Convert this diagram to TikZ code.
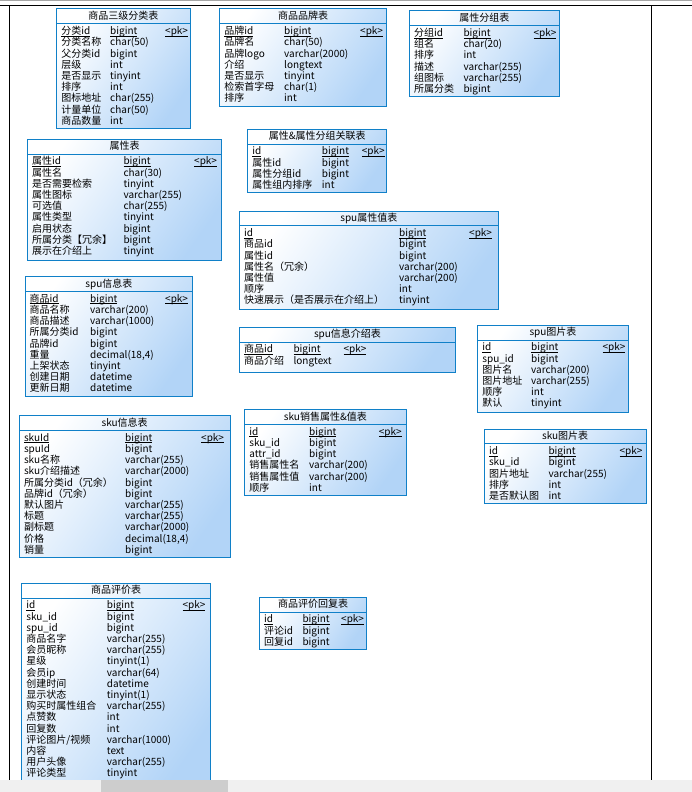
\documentclass[tikz,border=0pt]{standalone}
\usepackage{fontspec}
\setmainfont{Noto Sans CJK SC}
\usetikzlibrary{fit}

\definecolor{tblblue}{RGB}{16,128,200}
\definecolor{tblfill}{RGB}{178,212,247}
\definecolor{scrollbg}{RGB}{240,240,240}
\definecolor{scrollthumb}{RGB}{205,205,205}

% key underline, kept close to the baseline
\newcommand{\keyul}[1]{{\setbox0\hbox{#1}\rlap{\rule[-1.5pt]{\wd0}{0.5pt}}\box0}}

% name, left, top, right, bottom, title, type x, pk x, fields (first one is the key)
\newcommand{\dbtable}[9]{%
  \node[tbl,fit={(#2,#3) (#4,#5)}] (#1) {};
  \node[ttl] (#1-title) at ({(#2+#4)/2},#3+10.6) {#6};
  \draw[sepline] (#2,#3+14.7) -- (#4,#3+14.7);
  \foreach \fname/\ftype [count=\i] in {#9} {
    \pgfmathsetmacro{\rowy}{#3+25.6+11.2*(\i-1)}
    \ifnum\i=1
      \node[fld] (#1-n\i) at (#2+4.5,\rowy) {\keyul{\fname}};
      \node[fld] (#1-t\i) at (#7,\rowy) {\keyul{\ftype}};
      \node[fld] (#1-pk) at (#8,\rowy) {\keyul{<pk>}};
    \else
      \node[fld] (#1-n\i) at (#2+4.5,\rowy) {\fname};
      \node[fld] (#1-t\i) at (#7,\rowy) {\ftype};
    \fi
  }%
}

\begin{document}
\begin{tikzpicture}[
  x=1pt,y=-1pt,
  tbl/.style={draw=tblblue,line width=1pt,inner sep=0pt,top color=white,bottom color=tblfill,shading angle=55},
  sepline/.style={draw=tblblue,line width=0.9pt},
  ttl/.style={anchor=base,inner sep=0pt,font=\fontsize{10}{11}\selectfont},
  fld/.style={anchor=base west,inner sep=0pt,font=\fontsize{10}{11}\selectfont},
  frame/.style={line width=1pt}
]
\fill[white] (0,0) rectangle (692,792);
\useasboundingbox (0,0) rectangle (692,792);
\fill[gray!70] (0,0) rectangle (692,1.5);
\draw[frame] (0,6) -- (692,6);
\draw[frame] (9.5,6) -- (9.5,792);
\draw[frame] (651.5,6) -- (651.5,792);

\dbtable{cat}{56.7}{9}{190}{128}{商品三级分类表}{110}{165}{分类id/bigint, 分类名称/char(50), 父分类id/bigint, 层级/int, 是否显示/tinyint, 排序/int, 图标地址/char(255), 计量单位/char(50), 商品数量/int}
\dbtable{brand}{219.7}{9}{386.3}{106}{商品品牌表}{284}{360}{品牌id/bigint, 品牌名/char(50), 品牌logo/varchar(2000), 介绍/longtext, 是否显示/tinyint, 检索首字母/char(1), 排序/int}
\dbtable{attrgroup}{409.3}{11}{559.3}{96.3}{属性分组表}{463.3}{533.3}{分组id/bigint, 组名/char(20), 排序/int, 描述/varchar(255), 组图标/varchar(255), 所属分类/bigint}
\dbtable{attr}{27.3}{139.3}{221.7}{260}{属性表}{123.3}{194}{属性id/bigint, 属性名/char(30), 是否需要检索/tinyint, 属性图标/varchar(255), 可选值/char(255), 属性类型/tinyint, 启用状态/bigint, 所属分类【冗余】/bigint, 展示在介绍上/tinyint}
\dbtable{attrrel}{247.7}{129.3}{386.7}{192.7}{属性\&属性分组关联表}{321.7}{361.7}{id/bigint, 属性id/bigint, 属性分组id/bigint, 属性组内排序/int}
\dbtable{spuattr}{239.3}{211}{498.3}{309.3}{spu属性值表}{399}{469}{id/bigint, 商品id/bigint, 属性id/bigint, 属性名（冗余）/varchar(200), 属性值/varchar(200), 顺序/int, 快速展示（是否展示在介绍上）/tinyint}
\dbtable{spuinfo}{25}{276.7}{192.7}{396}{spu信息表}{90}{165}{商品id/bigint, 商品名称/varchar(200), 商品描述/varchar(1000), 所属分类id/bigint, 品牌id/bigint, 重量/{decimal(18,4)}, 上架状态/tinyint, 创建日期/datetime, 更新日期/datetime}
\dbtable{spudesc}{239.3}{327.3}{455.7}{372.3}{spu信息介绍表}{293.3}{343.3}{商品id/bigint, 商品介绍/longtext}
\dbtable{spuimg}{477.7}{325.3}{628.3}{412}{spu图片表}{531}{602.3}{id/bigint, spu\_id/bigint, 图片名/varchar(200), 图片地址/varchar(255), 顺序/int, 默认/tinyint}
\dbtable{skuinfo}{19.3}{415.7}{230}{557.3}{sku信息表}{125}{201}{skuId/bigint, spuId/bigint, sku名称/varchar(255), sku介绍描述/varchar(2000), 所属分类id（冗余）/bigint, 品牌id（冗余）/bigint, 默认图片/varchar(255), 标题/varchar(255), 副标题/varchar(2000), 价格/{decimal(18,4)}, 销量/bigint}
\dbtable{skuattr}{244.7}{409.7}{406}{495}{sku销售属性\&值表}{309}{378.7}{id/bigint, sku\_id/bigint, attr\_id/bigint, 销售属性名/varchar(200), 销售属性值/varchar(200), 顺序/int}
\dbtable{skuimg}{484.3}{429}{646}{503}{sku图片表}{548.3}{619.3}{id/bigint, sku\_id/bigint, 图片地址/varchar(255), 排序/int, 是否默认图/int}
\dbtable{comment}{21.7}{583.3}{210.7}{790}{商品评价表}{106.7}{182.3}{id/bigint, sku\_id/bigint, spu\_id/bigint, 商品名字/varchar(255), 会员昵称/varchar(255), 星级/tinyint(1), 会员ip/varchar(64), 创建时间/datetime, 显示状态/tinyint(1), 购买时属性组合/varchar(255), 点赞数/int, 回复数/int, 评论图片\slash 视频/varchar(1000), 内容/text, 用户头像/varchar(255), 评论类型/tinyint}
\dbtable{reply}{259.3}{597.3}{366.7}{649}{商品评价回复表}{302.3}{341}{id/bigint, 评论id/bigint, 回复id/bigint}

% scrollbar
\fill[scrollbg] (0,779.5) rectangle (692,792);
\fill[scrollthumb] (101,779.5) rectangle (228,792);
\end{tikzpicture}
\end{document}
